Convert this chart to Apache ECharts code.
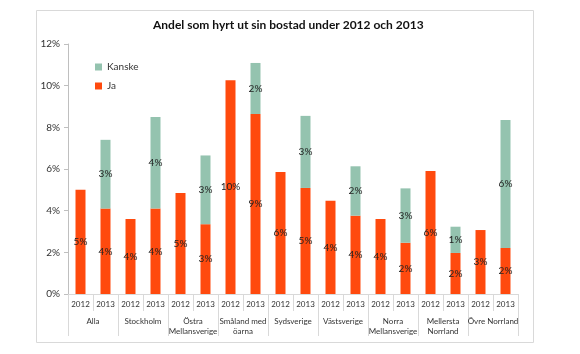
<!DOCTYPE html>
<html>
<head>
<meta charset="utf-8">
<script src="https://cdn.jsdelivr.net/npm/echarts@6/dist/echarts.min.js"></script>
<style>
  html, body { margin: 0; padding: 0; background: #fff; }
  #chart { width: 580px; height: 354px; }
</style>
</head>
<body>
<div id="chart"></div>
<script>
// regioner och år
const groups = ['Alla', 'Stockholm', 'Östra\nMellansverige', 'Småland med\nöarna', 'Sydsverige',
  'Västsverige', 'Norra\nMellansverige', 'Mellersta\nNorrland', 'Övre Norrland']
const years = ['2012', '2013']
// andel i procent, 2012/2013 per region
const ja = [5.0, 4.1, 3.6, 4.1, 4.85, 3.35, 10.26, 8.64, 5.86, 5.09, 4.48, 3.76, 3.6, 2.46, 5.9, 1.97, 3.07, 2.21]
const kanske = ['-', 3.3, '-', 4.4, '-', 3.3, '-', 2.45, '-', 3.46, '-', 2.37, '-', 2.61, '-', 1.26, '-', 6.14]
const yTicks = { min: 0, max: 12, interval: 2 }

const font = 'Lato'
const gray = '#d9d9d9'
const yearCats = []
groups.forEach(() => {
  years.forEach(y => yearCats.push(y))
})

const myChart = echarts.init(document.getElementById('chart'))
const pctLabel = {
  show: true,
  position: 'inside',
  fontFamily: font,
  fontSize: 10,
  color: '#222',
  formatter: (p) => Math.round(p.value) + '%'
}
const option = {
  animation: false,
  textStyle: { fontFamily: font },
  title: {
    text: 'Andel som hyrt ut sin bostad under 2012 och 2013',
    left: 148,
    top: 14,
    textStyle: { fontFamily: font, fontSize: 12, fontWeight: 'bold', color: '#111' }
  },
  graphic: [{
    type: 'rect',
    left: 34,
    top: 8,
    shape: { width: 497, height: 332 },
    style: { fill: 'none', stroke: gray, lineWidth: 1 },
    silent: true
  }],
  legend: {
    orient: 'vertical',
    left: 90,
    top: 57,
    itemWidth: 7,
    itemHeight: 7,
    itemGap: 9,
    icon: 'rect',
    data: ['Kanske', 'Ja'],
    textStyle: { fontFamily: font, fontSize: 10, color: '#333' }
  },
  grid: { left: 68, right: 62, top: 44, bottom: 60 },
  xAxis: [{
    type: 'category',
    data: yearCats,
    axisLine: { show: true, lineStyle: { color: gray } },
    axisTick: { show: true, interval: 0, length: 17, lineStyle: { color: gray } },
    axisLabel: { interval: 0, fontFamily: font, fontSize: 8, color: '#333', margin: 6 }
  }, {
    type: 'category',
    data: groups,
    position: 'bottom',
    axisLine: { show: false },
    axisTick: { show: true, interval: 0, length: 42, lineStyle: { color: gray } },
    axisLabel: { interval: 0, fontFamily: font, fontSize: 8, color: '#333', margin: 22, lineHeight: 10 }
  }],
  yAxis: {
    type: 'value',
    min: yTicks.min,
    max: yTicks.max,
    interval: yTicks.interval,
    axisLine: { show: true, lineStyle: { color: '#bfbfbf' } },
    axisTick: { show: true, length: 4, lineStyle: { color: '#bfbfbf' } },
    splitLine: { show: false },
    axisLabel: { fontFamily: font, fontSize: 10, color: '#333', formatter: '{value}%' }
  },
  series: [{
    name: 'Ja',
    type: 'bar',
    stack: 'andel',
    barWidth: 10,
    itemStyle: { color: '#FF4A0E' },
    label: pctLabel,
    data: ja
  }, {
    name: 'Kanske',
    type: 'bar',
    stack: 'andel',
    barWidth: 10,
    itemStyle: { color: '#94C3AF' },
    label: pctLabel,
    data: kanske
  }]
}
myChart.setOption(option)
</script>
</body>
</html>
